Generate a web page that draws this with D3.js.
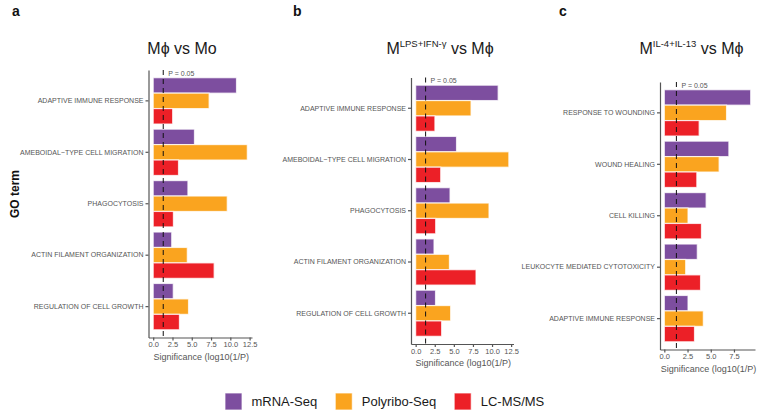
<!DOCTYPE html>
<html>
<head>
<meta charset="utf-8">
<script src="https://cdn.jsdelivr.net/npm/d3@7/dist/d3.min.js"></script>
<style>
  body { margin: 0; background: #fff; }
  svg text { font-family: "Liberation Sans", Arial, Helvetica, sans-serif; }
  .axis path, .axis line { stroke: #555; stroke-width: 1.2; }
  .axis text { fill: #555; }
</style>
</head>
<body>
<div id="chart"></div>
<script>
// series (legend order)
const seriesNames = ['mRNA-Seq', 'Polyribo-Seq', 'LC-MS/MS']
const seriesColors = ['#7D4E9F', '#FAA41F', '#EC2027']

// panel a : Mphi vs Mo
const termsA = ['ADAPTIVE IMMUNE RESPONSE', 'AMEBOIDAL\u2212TYPE CELL MIGRATION', 'PHAGOCYTOSIS',
  'ACTIN FILAMENT ORGANIZATION', 'REGULATION OF CELL GROWTH']
const mrnaA = [10.8, 5.35, 4.5, 2.4, 2.6]
const polyA = [7.25, 12.2, 9.6, 4.42, 4.58]
const lcmsA = [2.52, 3.28, 2.62, 7.9, 3.4]

// panel b : M(LPS+IFN-g) vs Mphi
const termsB = ['ADAPTIVE IMMUNE RESPONSE', 'AMEBOIDAL\u2212TYPE CELL MIGRATION', 'PHAGOCYTOSIS',
  'ACTIN FILAMENT ORGANIZATION', 'REGULATION OF CELL GROWTH']
const mrnaB = [10.8, 5.35, 4.5, 2.4, 2.6]
const polyB = [7.25, 12.2, 9.6, 4.42, 4.58]
const lcmsB = [2.52, 3.28, 2.62, 7.9, 3.4]

// panel c : M(IL-4+IL-13) vs Mphi
const termsC = ['RESPONSE TO WOUNDING', 'WOUND HEALING', 'CELL KILLING',
  'LEUKOCYTE MEDIATED CYTOTOXICITY', 'ADAPTIVE IMMUNE RESPONSE']
const mrnaC = [9.3, 6.95, 4.5, 3.55, 2.55]
const polyC = [6.7, 5.9, 2.55, 2.3, 4.2]
const lcmsC = [3.75, 3.5, 4.0, 3.9, 3.25]

const xTicksAB = [0, 2.5, 5, 7.5, 10, 12.5]
const xTicksC = [0, 2.5, 5, 7.5]
const pCutoff = 0.05

const width = 760
const height = 411
const font = '"Liberation Sans", Arial, Helvetica, sans-serif'

const panels = [
  { tag: 'a', terms: termsA, vals: [mrnaA, polyA, lcmsA], ticks: xTicksAB,
    left: 148.5, right: 252, top: 70, bottom: 337.5, titleX: 182, sup: null, main: 'M\u03d5 vs Mo', tagX: 12 },
  { tag: 'b', terms: termsB, vals: [mrnaB, polyB, lcmsB], ticks: xTicksAB,
    left: 411, right: 513.5, top: 77.5, bottom: 344, titleX: 440, sup: 'LPS+IFN-\u03b3', main: ' vs M\u03d5', tagX: 293 },
  { tag: 'c', terms: termsC, vals: [mrnaC, polyC, lcmsC], ticks: xTicksC,
    left: 660, right: 755, top: 82, bottom: 349.5, titleX: 691.5, sup: 'IL-4+IL-13', main: ' vs M\u03d5', tagX: 559 }
]

const svg = d3.select('#chart').append('svg')
  .attr('width', width)
  .attr('height', height)

function drawPanel(p) {
  const g = svg.append('g').attr('class', 'panel panel--' + p.tag)
  const maxVal = d3.max(p.vals.flat())

  const x = d3.scaleLinear()
    .domain([-0.05 * maxVal, maxVal * 1.05])
    .range([p.left, p.right])

  const y = d3.scaleBand()
    .domain(p.terms)
    .range([p.top, p.bottom])
    .paddingInner(0.1)
    .paddingOuter(0.15)

  const ySub = d3.scaleBand()
    .domain(seriesNames)
    .range([0, y.bandwidth()])

  const rows = []
  p.terms.forEach((t, i) => {
    seriesNames.forEach((s, j) => rows.push({ term: t, series: s, value: p.vals[j][i], color: seriesColors[j] }))
  })

  g.selectAll('rect.bar')
    .data(rows)
    .enter().append('rect')
      .attr('class', 'bar')
      .attr('x', x(0))
      .attr('y', d => y(d.term) + ySub(d.series))
      .attr('width', d => x(d.value) - x(0))
      .attr('height', ySub.bandwidth())
      .attr('fill', d => d.color)
      .attr('stroke', 'rgba(255,255,255,0.75)')
      .attr('stroke-width', 1.2)

  // significance threshold
  const xp = x(-Math.log10(pCutoff))
  g.append('line')
    .attr('x1', xp).attr('x2', xp)
    .attr('y1', p.top).attr('y2', p.bottom)
    .attr('stroke', '#111')
    .attr('stroke-width', 1)
    .attr('stroke-dasharray', '5,4')

  g.append('text')
    .attr('x', xp + 5)
    .attr('y', p.top + 5.5)
    .attr('font-size', 7)
    .attr('fill', '#555')
    .text('P = ' + pCutoff.toFixed(2))

  // axes
  const yAxis = g.append('g')
    .attr('class', 'axis')
    .attr('transform', `translate(${p.left},0)`)
    .call(d3.axisLeft(y).tickSize(3).tickSizeOuter(0).tickPadding(2))
  yAxis.selectAll('text').attr('font-size', 7).attr('font-family', font)

  const xAxis = g.append('g')
    .attr('class', 'axis')
    .attr('transform', `translate(0,${p.bottom})`)
    .call(d3.axisBottom(x).tickValues(p.ticks).tickFormat(d3.format('.1f')).tickSize(3).tickSizeOuter(0).tickPadding(1.5))
  xAxis.selectAll('text').attr('font-size', 7.5).attr('font-family', font)

  g.append('text')
    .attr('x', (p.left + p.right) / 2 + 1)
    .attr('y', p.bottom + 22)
    .attr('text-anchor', 'middle')
    .attr('font-size', 9)
    .attr('fill', '#555')
    .text('Significance (log10(1/P)')

  // title
  const title = g.append('text')
    .attr('x', p.titleX)
    .attr('y', 53.5)
    .attr('text-anchor', 'middle')
    .attr('font-size', 16)
    .attr('fill', '#1a1a1a')
  title.append('tspan').text('M')
  if (p.sup) {
    title.append('tspan').attr('font-size', 9.5).attr('dy', -6.5).text(p.sup)
    title.append('tspan').attr('dy', 6.5).text(p.main)
  } else {
    title.append('tspan').text(p.main.slice(1))
  }

  // panel letter
  svg.append('text')
    .attr('x', p.tagX)
    .attr('y', 15.5)
    .attr('font-size', 14)
    .attr('font-weight', 'bold')
    .attr('fill', '#111')
    .text(p.tag)
}

panels.forEach(drawPanel)

svg.append('text')
  .attr('transform', 'translate(18.5,194) rotate(-90)')
  .attr('text-anchor', 'middle')
  .attr('font-size', 12)
  .attr('font-weight', 'bold')
  .attr('fill', '#111')
  .text('GO term')

// legend
const legend = svg.append('g').attr('class', 'legend').attr('transform', 'translate(225,393)')
let lx = 0
seriesNames.forEach((name, i) => {
  const item = legend.append('g').attr('transform', `translate(${lx},0)`)
  item.append('rect')
    .attr('width', 17).attr('height', 17)
    .attr('fill', seriesColors[i])
    .attr('stroke', 'rgba(255,255,255,0.75)')
  const t = item.append('text')
    .attr('x', 26.5)
    .attr('y', 13)
    .attr('font-size', 13)
    .attr('fill', '#1a1a1a')
    .text(name)
  lx += 26.5 + t.node().getComputedTextLength() + 18
})
</script>
</body>
</html>
